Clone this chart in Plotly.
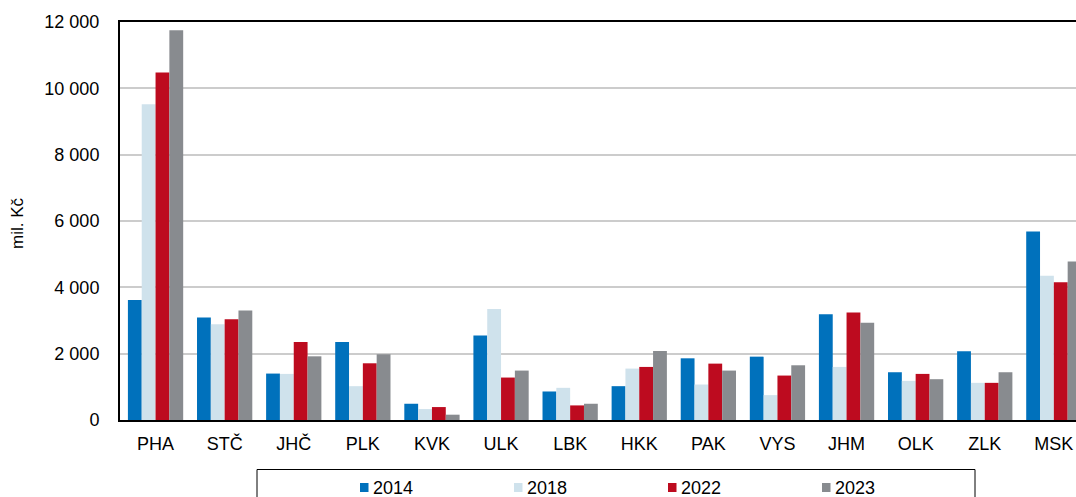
import plotly.graph_objects as go

regions = ["PHA", "STČ", "JHČ", "PLK", "KVK", "ULK", "LBK", "HKK", "PAK", "VYS", "JHM", "OLK", "ZLK", "MSK"]
years = ["2014", "2018", "2022", "2023"]
v2014 = [3620, 3090, 1400, 2350, 490, 2550, 860, 1020, 1860, 1910, 3190, 1440, 2070, 5680]
v2018 = [9520, 2890, 1390, 1020, 330, 3350, 970, 1550, 1070, 750, 1600, 1180, 1120, 4350]
v2022 = [10480, 3040, 2350, 1710, 390, 1280, 440, 1600, 1700, 1340, 3240, 1390, 1120, 4150]
v2023 = [11750, 3300, 1920, 1980, 160, 1490, 490, 2080, 1490, 1650, 2930, 1230, 1440, 4780]
colors = ["#0071BC", "#CFE2EC", "#BD0B1F", "#888B8F"]
y_ticks = [0, 2000, 4000, 6000, 8000, 10000, 12000]

series = [v2014, v2018, v2022, v2023]

W, H = 1076, 497
ML, MR, MT, MB = 120, 0, 22, 77
PW = W - ML - MR
PH = H - MT - MB


def xp(px):
    return (px - ML) / PW


def yp(py):
    return (H - MB - py) / PH


FONT = "Liberation Sans, Arial, sans-serif"

fig = go.Figure()
for name, vals, col in zip(years, series, colors):
    fig.add_trace(go.Bar(x=regions, y=vals, name=name, marker=dict(color=col, line=dict(width=0)),
                         showlegend=False))

cat_w = 69.1
x_start = -0.5 - 1.0 / cat_w
x_end = x_start + PW / cat_w

shapes = []
annotations = []
# legend box
shapes.append(dict(type="rect", xref="paper", yref="paper", x0=xp(257), x1=xp(975), y0=yp(505), y1=yp(469.5),
                   line=dict(color="black", width=1), fillcolor="rgba(0,0,0,0)"))
for i, (name, col) in enumerate(zip(years, colors)):
    sx = 360 + i * 154
    shapes.append(dict(type="rect", xref="paper", yref="paper", x0=xp(sx), x1=xp(sx + 8.5),
                       y0=yp(492), y1=yp(483), line=dict(width=0), fillcolor=col))
    annotations.append(dict(text=name, xref="paper", yref="paper", x=xp(sx + 10.5), y=yp(487.5),
                            xanchor="left", yanchor="middle", showarrow=False,
                            font=dict(family=FONT, size=18, color="black")))

annotations.append(dict(text="mil. Kč", xref="paper", yref="paper", x=xp(17), y=yp(223), textangle=-90,
                        xanchor="center", yanchor="middle", showarrow=False,
                        font=dict(family=FONT, size=17, color="black")))

fig.update_layout(
    width=W, height=H,
    margin=dict(l=ML, r=MR, t=MT, b=MB, pad=0),
    paper_bgcolor="white", plot_bgcolor="white",
    barmode="group", bargap=0.2, bargroupgap=0,
    separators=", ",
    font=dict(family=FONT, size=18, color="black"),
    shapes=shapes, annotations=annotations,
    xaxis=dict(range=[x_start, x_end], showline=True, linecolor="black", linewidth=2, mirror=True,
               showgrid=False, ticks="", ticklabelstandoff=6,
               tickfont=dict(family=FONT, size=18, color="black")),
    yaxis=dict(range=[0, 12000], tickvals=y_ticks, tickformat=",", showline=True, linecolor="black",
               linewidth=2, mirror=False, showgrid=True, gridcolor="#CCCCCC", gridwidth=1.5,
               zeroline=False, ticks="", ticklabelstandoff=15,
               tickfont=dict(family=FONT, size=18, color="black")),
)

fig.write_html("out.html", config={"displayModeBar": False},
               post_script="document.body.style.margin='0';document.body.style.overflow='hidden';")
